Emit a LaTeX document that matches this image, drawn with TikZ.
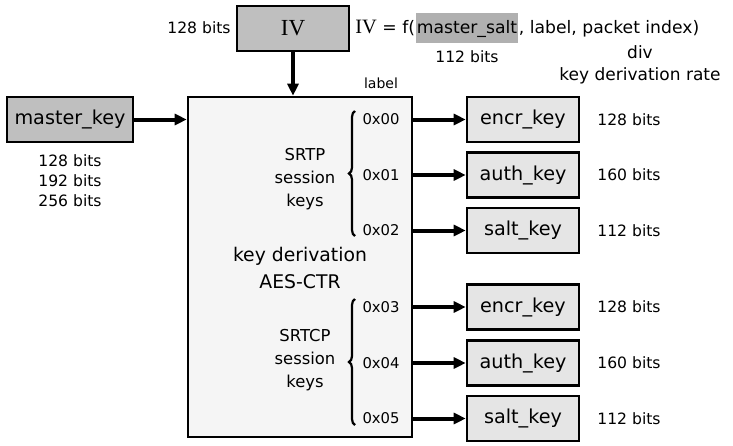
\documentclass[tikz,border=0pt]{standalone}
\usepackage{fontspec}
\setmainfont{DejaVu Sans}
\newfontfamily\ivfont{Liberation Serif}
\usetikzlibrary{arrows.meta, positioning, decorations.pathreplacing}

\definecolor{darkbox}{RGB}{191,191,191}
\definecolor{lightbox}{RGB}{229,229,229}
\definecolor{kdfbox}{RGB}{245,245,245}
\definecolor{saltmark}{RGB}{176,176,176}

\tikzset{
  keybox/.style={draw, line width=1.3pt, minimum width=56pt, minimum height=22.5pt,
    inner sep=0pt, font=\fontsize{9.6}{11}\selectfont},
  inbox/.style={keybox, fill=darkbox},
  outbox/.style={keybox, fill=lightbox},
  bits/.style={font=\fontsize{7.8}{10}\selectfont},
  hexlbl/.style={font=\fontsize{7.4}{9}\selectfont},
  formula/.style={anchor=base west, inner sep=0pt, font=\fontsize{8.6}{10}\selectfont},
  feed/.style={line width=2pt, -{Triangle[length=6pt,width=5.5pt]}},
  keybrace/.style={line width=1.1pt, decorate, decoration={brace, amplitude=3pt}},
}

\begin{document}
\begin{tikzpicture}[x=0.5pt, y=-0.5pt]
  \useasboundingbox (0,0) rectangle (733,445);

  % inputs and the derivation box
  \node[inbox, minimum width=63pt] (mkey) at (70,119.5) {master\_key};
  \node[inbox, font=\ivfont\fontsize{11.5}{13}\selectfont] (iv) at (293,28.5) {IV};
  \node[draw, line width=1.3pt, fill=kdfbox, minimum width=112pt, minimum height=170pt] (kdf) at (300,267) {};

  \node[bits] (ivlen) at (199,28) {128 bits};
  \node[bits, align=center] (mklen) at (70,181) {128 bits\\192 bits\\256 bits};

  % IV formula
  \node[formula] (fpre) at (355,33) {{\ivfont\fontsize{10.2}{11}\selectfont IV} = f(};
  \node[formula, inner xsep=0.5pt, fill=saltmark, text height=10pt, text depth=5pt] (fsalt) at (fpre.base east) {master\_salt};
  \node[formula] (fpost) at (fsalt.base east) {, label, packet index)};
  \node[bits] (saltlen) at (467,57) {112 bits};
  \node[font=\fontsize{8.5}{11}\selectfont, align=center] (rate) at (640,65) {div\\key derivation rate};
  \node[font=\fontsize{7}{9}\selectfont] (lblhead) at (381,83) {label};

  % text inside kdf
  \node[font=\fontsize{8.2}{11.5}\selectfont, align=center] (srtp) at (305,179) {SRTP\\session\\keys};
  \node[font=\fontsize{9.4}{13.5}\selectfont, align=center] (kdname) at (300,268) {key derivation\\AES-CTR};
  \node[font=\fontsize{8.2}{11.5}\selectfont, align=center] (srtcp) at (305,360) {SRTCP\\session\\keys};

  \draw[keybrace] (355,236) -- (355,111);
  \draw[keybrace] (355,425) -- (355,299);

  \draw[feed] (iv.south) -- (iv.south |- kdf.north);
  \draw[feed] (mkey.east) -- (mkey.east -| kdf.west);

  % session keys
  \foreach \y/\hex/\name/\len [count=\i] in {119.5/00/encr/128, 175/01/auth/160, 230.5/02/salt/112,
      307/03/encr/128, 363/04/auth/160, 418.5/05/salt/112} {
    \node[outbox] (out\i) at (523,\y) {\name\_key};
    \node[hexlbl] (hex\i) at (381,\y) {0x\hex};
    \node[bits] (len\i) at (629,\y) {\len~bits};
    \draw[feed] (out\i.west -| kdf.east) -- (out\i.west);
  }
\end{tikzpicture}
\end{document}
